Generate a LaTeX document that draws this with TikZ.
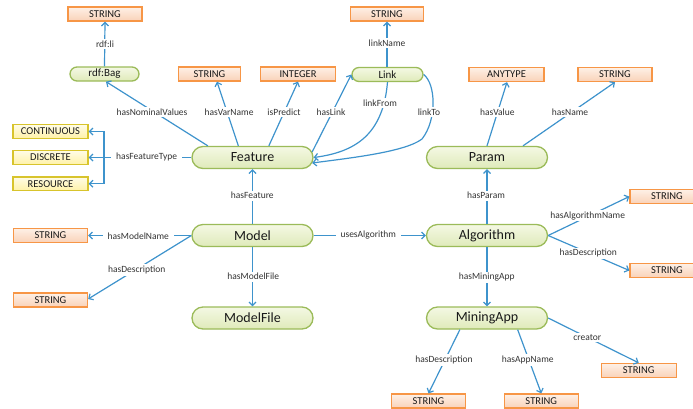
\documentclass[tikz,border=0pt]{standalone}
\usepackage{fontspec}
\setmainfont{Carlito}
\usetikzlibrary{arrows.meta}
\definecolor{edgeblue}{HTML}{3E93CC}
\definecolor{boxorange}{HTML}{F79646}
\definecolor{orangetop}{HTML}{FEF0E6}
\definecolor{orangebot}{HTML}{F9D2B8}
\definecolor{boxyellow}{HTML}{D8C42C}
\definecolor{yellowtop}{HTML}{FFFCE6}
\definecolor{yellowbot}{HTML}{FFF2A8}
\definecolor{boxgreen}{HTML}{9BBB59}
\definecolor{greentop}{HTML}{F4F8E4}
\definecolor{greenbot}{HTML}{DFEAB9}
\definecolor{labelgray}{HTML}{333333}
\begin{document}
\begin{tikzpicture}[x=1pt,y=-1pt,
  strbox/.style={draw=boxorange, line width=1.3pt, top color=orangetop, bottom color=orangebot,
    minimum width=74pt, minimum height=14pt, inner sep=0pt,
    font=\fontsize{10.5}{12}\selectfont, text=black!90},
  typebox/.style={draw=boxyellow, line width=1.3pt, top color=yellowtop, bottom color=yellowbot,
    minimum width=75pt, minimum height=13.5pt, inner sep=0pt,
    font=\fontsize{10.5}{12}\selectfont, text=black!90},
  bigcls/.style={draw=boxgreen, line width=1.3pt, top color=greentop, bottom color=greenbot,
    rounded corners=11pt, minimum width=121pt, minimum height=22pt, inner sep=0pt,
    font=\fontsize{14}{16}\selectfont, text=black!90},
  smallcls/.style={draw=boxgreen, line width=1.3pt, top color=greentop, bottom color=greenbot,
    rounded corners=7pt, minimum width=70pt, minimum height=14pt, inner sep=0pt,
    font=\fontsize{11}{13}\selectfont, text=black!90},
  rel/.style={draw=edgeblue, line width=1.2pt, -{Straight Barb[length=3.5pt,width=7pt]}},
  plain/.style={draw=edgeblue, line width=1.2pt},
  lbl/.style={fill=white, inner xsep=5pt, inner ysep=1.5pt, text=labelgray,
    font=\fontsize{9.5}{11}\selectfont}
]
\useasboundingbox (0,0) rectangle (693,408);

% ---------- nodes ----------
\node[strbox] (s1) at (105,14) {STRING};
\node[smallcls, minimum width=69pt] (bag) at (104.5,74) {rdf:Bag};
\node[strbox, minimum width=62pt] (s2) at (209.5,74) {STRING};
\node[strbox, minimum width=75pt] (int) at (298,74) {INTEGER};
\node[smallcls, minimum width=71pt] (link) at (387.5,74.5) {Link};
\node[strbox, minimum width=73pt] (s3) at (387,14) {STRING};
\node[strbox, minimum width=75pt] (any) at (506.5,74.5) {ANYTYPE};
\node[strbox] (s4) at (615,74.5) {STRING};

\node[typebox] (cont) at (50.5,131.5) {CONTINUOUS};
\node[typebox] (disc) at (50.5,157.5) {DISCRETE};
\node[typebox] (res) at (50.5,183.7) {RESOURCE};

\node[bigcls] (feat) at (252.5,157.5) {Feature};
\node[bigcls] (param) at (487,157.5) {Param};
\node[bigcls] (model) at (252.5,235.5) {Model};
\node[bigcls] (alg) at (487,235.5) {Algorithm};
\node[bigcls] (mfile) at (252.5,318) {ModelFile};
\node[bigcls] (mapp) at (487,318) {MiningApp};

\node[strbox] (s5) at (50.5,235.5) {STRING};
\node[strbox] (s6) at (50.5,300) {STRING};
\node[strbox] (s7) at (667,196.5) {STRING};
\node[strbox] (s8) at (667,270.5) {STRING};
\node[strbox, minimum width=75pt] (s9) at (638.7,370.5) {STRING};
\node[strbox] (s10) at (428.5,401) {STRING};
\node[strbox] (s11) at (541.3,401) {STRING};

\coordinate (ft) at (104,157.5);

% ---------- connectors ----------
\draw[rel] (bag.north) -- (s1.south);
\draw[rel] ([xshift=16.5pt]feat.north west) -- ([xshift=1.5pt]bag.south);
\draw[rel] ([xshift=47pt]feat.north west) -- ([xshift=7.5pt]s2.south);
\draw[rel] ([xshift=77.5pt]feat.north west) -- (int.south);
\draw[rel] ([xshift=-1.5pt,yshift=5.5pt]feat.east) -- (link.west);
\draw[rel] (link.south) .. controls (383,135) and (355,152) .. (feat.east);
\draw[rel] (link.east) .. controls (436,84) and (437,120) .. (422,139)
   .. controls (405,152) and (350,158) .. ([xshift=-1.5pt,yshift=-5.5pt]feat.east);
\draw[rel] ([xshift=-0.5pt]link.north) -- (s3.south);

\draw[plain] (feat.west) -- (ft);
\draw[rel] (ft) |- (cont.east);
\draw[rel] (ft) -- (disc.east);
\draw[rel] (ft) |- (res.east);

\draw[rel] (model.north) -- (feat.south);
\draw[rel] (model.west) -- (s5.east);
\draw[rel] (model.west) -- ([yshift=1pt]s6.east);
\draw[rel] (model.south) -- (mfile.north);
\draw[rel] (model.east) -- (alg.west);

\draw[rel] (alg.north) -- (param.south);
\draw[rel] (param.north) -- ([xshift=0.5pt]any.south);
\draw[rel] ([xshift=36pt]param.north) -- (s4.south);
\draw[rel] (alg.east) -- (s7.west);
\draw[rel] (alg.east) -- (s8.west);
\draw[rel] (alg.south) -- (mapp.north);

\draw[rel] ([xshift=34pt]mapp.south west) -- (s10.north);
\draw[rel] ([xshift=-30.5pt]mapp.south east) -- (s11.north);
\draw[rel] (mapp.east) -- (s9.north);

% ---------- labels ----------
\node[lbl] (l1) at (105,44) {rdf:li};
\node[lbl] (l2) at (152,112) {hasNominalValues};
\node[lbl] (l3) at (229,112) {hasVarName};
\node[lbl] (l4) at (284,112) {isPredict};
\node[lbl] (l5) at (331,112) {hasLink};
\node[lbl] (l6) at (380,103) {linkFrom};
\node[lbl] (l7) at (429,112) {linkTo};
\node[lbl] (l8) at (387,43) {linkName};
\node[lbl] (l9) at (497.3,112) {hasValue};
\node[lbl] (l10) at (570,112) {hasName};
\node[lbl] (l11) at (146.7,157.3) {hasFeatureType};
\node[lbl] (l12) at (252.3,195.7) {hasFeature};
\node[lbl] (l13) at (138.3,236) {hasModelName};
\node[lbl] (l14) at (136.7,270) {hasDescription};
\node[lbl] (l15) at (368.3,235.3) {usesAlgorithm};
\node[lbl] (l16) at (253.3,276.7) {hasModelFile};
\node[lbl] (l17) at (486,195.7) {hasParam};
\node[lbl] (l18) at (587.7,215.7) {hasAlgorithmName};
\node[lbl] (l19) at (588.3,253.3) {hasDescription};
\node[lbl] (l20) at (486.7,277.3) {hasMiningApp};
\node[lbl] (l21) at (587.3,337.7) {creator};
\node[lbl] (l22) at (444,360) {hasDescription};
\node[lbl] (l23) at (527.7,360) {hasAppName};
\end{tikzpicture}
\end{document}
